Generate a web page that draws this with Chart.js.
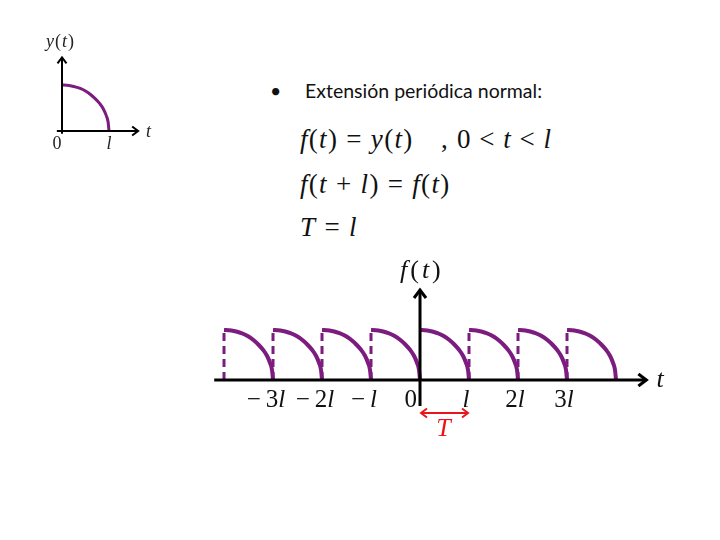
<!DOCTYPE html>
<html>
<head>
<meta charset="utf-8">
<script src="https://cdn.jsdelivr.net/npm/chart.js@4/dist/chart.umd.min.js"></script>
<style>
  html, body { margin:0; padding:0; background:#fff; }
  body { width:720px; height:540px; position:relative; overflow:hidden; }
  .abs { position:absolute; white-space:nowrap; }
  #c1 { position:absolute; left:30px; top:30px; }
  #c2 { position:absolute; left:200px; top:250px; }
  .bullet { font-family: Lato, "Open Sans", sans-serif; font-size:19.5px; color:#111; }
  .math { font-family: "Liberation Serif", "DejaVu Serif", serif; font-size:27px; color:#111; letter-spacing:1.3px; }
  .math i { font-style:italic; }
</style>
</head>
<body>
<canvas id="c1" width="140" height="130"></canvas>
<canvas id="c2" width="480" height="200"></canvas>

<div class="abs bullet" style="left:270px; top:79px;">•</div>
<div class="abs bullet" style="left:305px; top:79px;">Extensión periódica normal:</div>

<div class="abs math" style="left:300px; top:124px;"><i>f</i>(<i>t</i>) = <i>y</i>(<i>t</i>)</div>
<div class="abs math" style="left:441px; top:124px;">,</div>
<div class="abs math" style="left:457px; top:124px; letter-spacing:1px;">0 &lt; <i>t</i> &lt; <i>l</i></div>
<div class="abs math" style="left:300px; top:169px;"><i>f</i>(<i>t</i> + <i>l</i>) = <i>f</i>(<i>t</i>)</div>
<div class="abs math" style="left:300px; top:212px;"><i>T</i> = <i>l</i></div>

<script>
// ---- data ----
// one period of y(t): t in units of l, y in units of y(0)
const arcT = [0, 0.1, 0.2, 0.3, 0.4, 0.5, 0.6, 0.7, 0.8, 0.88, 0.94, 0.98, 1];
const arcY = [1, 0.995, 0.98, 0.955, 0.92, 0.87, 0.8, 0.71, 0.6, 0.48, 0.34, 0.2, 0];
// period starts shown in the extension
const periodStarts = [-4, -3, -2, -1, 0, 1, 2, 3];
// dashed jumps at period starts
const jumpStarts = [-4, -3, -2, -1, 1, 2, 3];
// tick labels on t axis
const tickValues = [-3, -2, -1, 0, 1, 2, 3];
const tickLabels = ["−\u20093l", "−\u20092l", "−\u2009l", "0", "l", "2l", "3l"];
// small chart labels
const smallTickValues = [0, 1];
const smallTickLabels = ["0", "l"];

const PURPLE = "#7c1c7e";
const RED = "#e8161b";
const SERIF = '"Liberation Serif", "DejaVu Serif", serif';

function drawMixed(ctx, text, x, y, size, align) {
  const runs = [];
  for (const ch of text) {
    const it = /[a-zA-Z]/.test(ch);
    if (runs.length && runs[runs.length-1].it === it) runs[runs.length-1].s += ch;
    else runs.push({s: ch, it});
  }
  let total = 0;
  for (const r of runs) {
    ctx.font = (r.it ? "italic " : "") + size + "px " + SERIF;
    r.w = ctx.measureText(r.s).width;
    total += r.w;
  }
  let cx = align === "right" ? x - total : (align === "left" ? x : x - total / 2);
  ctx.textAlign = "left";
  for (const r of runs) {
    ctx.font = (r.it ? "italic " : "") + size + "px " + SERIF;
    ctx.fillText(r.s, cx, y);
    cx += r.w;
  }
}

function chevron(ctx, x, y, dir, len) {
  ctx.beginPath();
  if (dir === "right") { ctx.moveTo(x - len, y - len*0.75); ctx.lineTo(x, y); ctx.lineTo(x - len, y + len*0.75); }
  if (dir === "left")  { ctx.moveTo(x + len, y - len*0.75); ctx.lineTo(x, y); ctx.lineTo(x + len, y + len*0.75); }
  if (dir === "up")    { ctx.moveTo(x - len*0.75, y + len); ctx.lineTo(x, y); ctx.lineTo(x + len*0.75, y + len); }
  ctx.stroke();
}

function arcDataset(starts) {
  const pts = [];
  starts.forEach((k, i) => {
    if (i > 0) pts.push({x: k, y: null});
    arcT.forEach((t, j) => pts.push({x: k + t, y: arcY[j]}));
  });
  return pts;
}
function jumpDataset(starts) {
  const pts = [];
  starts.forEach((k, i) => {
    if (i > 0) pts.push({x: k, y: null});
    pts.push({x: k, y: 0}, {x: k, y: 1});
  });
  return pts;
}

function funcLabel(ctx, name, x, y, size, gap) {
  ctx.textAlign = "left";
  let cx = x;
  const parts = [[name, true], ["(", false], ["t", true], [")", false]];
  parts.forEach(([s, it]) => {
    ctx.font = (it ? "italic " : "") + size + "px " + SERIF;
    ctx.fillText(s, cx, y);
    cx += ctx.measureText(s).width + gap;
  });
}

// ---------- small chart: y(t) ----------
const smallAxes = {
  id: "smallAxes",
  afterDatasetsDraw(chart) {
    const ctx = chart.ctx, xs = chart.scales.x, ys = chart.scales.y;
    const x0 = xs.getPixelForValue(0), y0 = ys.getPixelForValue(0);
    ctx.save();
    ctx.strokeStyle = "#000"; ctx.lineWidth = 2; ctx.lineCap = "butt";
    ctx.beginPath();
    ctx.moveTo(xs.getPixelForValue(-0.11), y0); ctx.lineTo(xs.getPixelForValue(1.62), y0);
    ctx.moveTo(x0, ys.getPixelForValue(-0.06)); ctx.lineTo(x0, ys.getPixelForValue(1.6));
    ctx.stroke();
    chevron(ctx, xs.getPixelForValue(1.62), y0, "right", 6);
    chevron(ctx, x0, ys.getPixelForValue(1.6), "up", 6);
    ctx.fillStyle = "#222"; ctx.textBaseline = "alphabetic";
    smallTickValues.forEach((v, i) => {
      drawMixed(ctx, smallTickLabels[i], xs.getPixelForValue(v) - (v === 0 ? 5 : 0), y0 + 18, 18, "center");
    });
    drawMixed(ctx, "t", xs.getPixelForValue(1.84), y0 + 6, 18, "center");
    funcLabel(ctx, "y", x0 - 16, ys.getPixelForValue(1.6) - 10, 18, 1);
    ctx.restore();
  }
};

new Chart(document.getElementById("c1"), {
  type: "line",
  data: { datasets: [{
    data: arcDataset([0]),
    borderColor: PURPLE, borderWidth: 3, pointRadius: 0,
    cubicInterpolationMode: "monotone", fill: false
  }]},
  options: {
    responsive: false, animation: false,
    layout: { padding: 0 },
    plugins: { legend: { display: false }, tooltip: { enabled: false } },
    scales: {
      x: { type: "linear", display: false, min: -0.681, max: 2.298 },
      y: { type: "linear", display: false, min: -0.630, max: 2.196 }
    }
  },
  plugins: [smallAxes]
});

// ---------- main chart: periodic extension ----------
const mainAxes = {
  id: "mainAxes",
  afterDatasetsDraw(chart) {
    const ctx = chart.ctx, xs = chart.scales.x, ys = chart.scales.y;
    const x0 = xs.getPixelForValue(0), y0 = ys.getPixelForValue(0);
    ctx.save();
    ctx.strokeStyle = "#000"; ctx.lineWidth = 3;
    ctx.beginPath();
    ctx.moveTo(xs.getPixelForValue(-4.2), y0); ctx.lineTo(xs.getPixelForValue(4.62), y0);
    ctx.moveTo(x0, ys.getPixelForValue(-0.52)); ctx.lineTo(x0, ys.getPixelForValue(1.8));
    ctx.stroke();
    chevron(ctx, xs.getPixelForValue(4.62), y0, "right", 8);
    chevron(ctx, x0, ys.getPixelForValue(1.8), "up", 8);

    ctx.fillStyle = "#111"; ctx.textBaseline = "alphabetic";
    tickValues.forEach((v, i) => {
      const px = xs.getPixelForValue(v);
      if (v === 0) drawMixed(ctx, tickLabels[i], px - 3, y0 + 27, 25, "right");
      else drawMixed(ctx, tickLabels[i], px + (v < 0 ? -7 : -3), y0 + 27, 25, "center");
    });
    drawMixed(ctx, "t", xs.getPixelForValue(4.9), y0 + 7, 26, "center");
    funcLabel(ctx, "f", x0 - 20, ys.getPixelForValue(1.8) - 12, 26, 3);

    // period arrow T
    const ay = ys.getPixelForValue(-0.66);
    const ax1 = xs.getPixelForValue(0), ax2 = xs.getPixelForValue(1);
    ctx.strokeStyle = RED; ctx.lineWidth = 2;
    ctx.beginPath(); ctx.moveTo(ax1 + 1, ay); ctx.lineTo(ax2 - 1, ay); ctx.stroke();
    chevron(ctx, ax1 + 1, ay, "left", 6);
    chevron(ctx, ax2 - 1, ay, "right", 6);
    ctx.fillStyle = RED;
    drawMixed(ctx, "T", (ax1 + ax2) / 2 - 1, ay + 23, 26, "center");
    ctx.restore();
  }
};

new Chart(document.getElementById("c2"), {
  type: "line",
  data: { datasets: [
    {
      data: arcDataset(periodStarts),
      borderColor: PURPLE, borderWidth: 4, pointRadius: 0, spanGaps: false,
      cubicInterpolationMode: "monotone", fill: false
    },
    {
      data: jumpDataset(jumpStarts),
      borderColor: PURPLE, borderWidth: 3, pointRadius: 0, spanGaps: false,
      borderDash: [8, 5], fill: false
    }
  ]},
  options: {
    responsive: false, animation: false,
    layout: { padding: 0 },
    plugins: { legend: { display: false }, tooltip: { enabled: false } },
    scales: {
      x: { type: "linear", display: false, min: -4.49, max: 5.306 },
      y: { type: "linear", display: false, min: -1.4, max: 2.6 }
    }
  },
  plugins: [mainAxes]
});
</script>
</body>
</html>
